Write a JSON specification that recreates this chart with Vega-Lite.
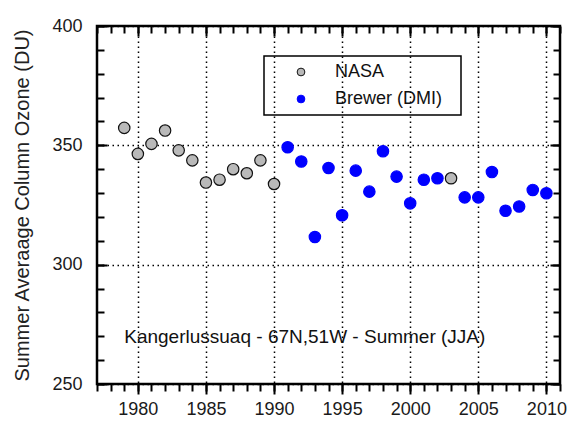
{
  "$schema": "https://vega.github.io/schema/vega-lite/v6.json",
  "autosize": "none",
  "padding": {"left": 97, "top": 26, "right": 7, "bottom": 39},
  "width": 463,
  "height": 358,
  "background": "white",
  "config": {
    "view": {"stroke": "black", "strokeWidth": 2.5},
    "font": "Liberation Sans",
    "axis": {"domain": false, "labelFont": "Liberation Sans", "titleFont": "Liberation Sans", "labelColor": "#1a1a1a", "titleColor": "#222", "tickColor": "black", "tickWidth": 2, "grid": false, "title": null},
    "legend": {"strokeWidth": 1.5}
  },
  "datasets": {
    "ozone": [
      {"year": 1979, "ozone": 357.3, "source": "NASA"},
      {"year": 1980, "ozone": 346.4, "source": "NASA"},
      {"year": 1981, "ozone": 350.6, "source": "NASA"},
      {"year": 1982, "ozone": 356.2, "source": "NASA"},
      {"year": 1983, "ozone": 347.9, "source": "NASA"},
      {"year": 1984, "ozone": 343.7, "source": "NASA"},
      {"year": 1985, "ozone": 334.4, "source": "NASA"},
      {"year": 1986, "ozone": 335.6, "source": "NASA"},
      {"year": 1987, "ozone": 340.0, "source": "NASA"},
      {"year": 1988, "ozone": 338.3, "source": "NASA"},
      {"year": 1989, "ozone": 343.7, "source": "NASA"},
      {"year": 1990, "ozone": 333.8, "source": "NASA"},
      {"year": 2003, "ozone": 336.2, "source": "NASA"},
      {"year": 1991, "ozone": 349.2, "source": "Brewer (DMI)"},
      {"year": 1992, "ozone": 343.2, "source": "Brewer (DMI)"},
      {"year": 1993, "ozone": 311.6, "source": "Brewer (DMI)"},
      {"year": 1994, "ozone": 340.5, "source": "Brewer (DMI)"},
      {"year": 1995, "ozone": 320.7, "source": "Brewer (DMI)"},
      {"year": 1996, "ozone": 339.4, "source": "Brewer (DMI)"},
      {"year": 1997, "ozone": 330.6, "source": "Brewer (DMI)"},
      {"year": 1998, "ozone": 347.5, "source": "Brewer (DMI)"},
      {"year": 1999, "ozone": 336.9, "source": "Brewer (DMI)"},
      {"year": 2000, "ozone": 325.7, "source": "Brewer (DMI)"},
      {"year": 2001, "ozone": 335.6, "source": "Brewer (DMI)"},
      {"year": 2002, "ozone": 336.2, "source": "Brewer (DMI)"},
      {"year": 2004, "ozone": 328.2, "source": "Brewer (DMI)"},
      {"year": 2005, "ozone": 328.2, "source": "Brewer (DMI)"},
      {"year": 2006, "ozone": 338.8, "source": "Brewer (DMI)"},
      {"year": 2007, "ozone": 322.6, "source": "Brewer (DMI)"},
      {"year": 2008, "ozone": 324.4, "source": "Brewer (DMI)"},
      {"year": 2009, "ozone": 331.3, "source": "Brewer (DMI)"},
      {"year": 2010, "ozone": 329.9, "source": "Brewer (DMI)"}
    ],
    "note": [
      {"year": 1979.0, "ozone": 269.5, "label": "Kangerlussuaq - 67N,51W - Summer (JJA)"}
    ]
  },
  "layer": [
    {
      "data": {"name": "note"},
      "mark": {"type": "point", "opacity": 0},
      "encoding": {
        "x": {
          "field": "year", "type": "quantitative",
          "scale": {"domain": [1977, 2011], "nice": false, "zero": false},
          "axis": {
            "orient": "bottom", "labels": false, "ticks": false, "domain": false,
            "values": [1980, 1985, 1990, 1995, 2000, 2005, 2010],
            "grid": true, "gridColor": "black", "gridDash": [1.5, 3.5], "gridWidth": 1.5
          }
        },
        "y": {
          "field": "ozone", "type": "quantitative",
          "scale": {"domain": [250, 400], "nice": false, "zero": false},
          "axis": {
            "orient": "left", "labels": false, "ticks": false, "domain": false,
            "values": [250, 300, 350, 400],
            "grid": true, "gridColor": "black", "gridDash": [1.5, 3.5], "gridWidth": 1.5
          }
        }
      }
    },
    {
      "data": {"name": "note"},
      "mark": {"type": "point", "opacity": 0},
      "encoding": {
        "x": {
          "field": "year", "type": "quantitative",
          "scale": {"domain": [1977, 2011], "nice": false, "zero": false},
          "axis": {
            "orient": "top", "labels": false, "grid": false,
            "values": [1980, 1985, 1990, 1995, 2000, 2005, 2010],
            "tickSize": -10
          }
        },
        "y": {
          "field": "ozone", "type": "quantitative",
          "scale": {"domain": [250, 400], "nice": false, "zero": false},
          "axis": {
            "orient": "right", "labels": false, "grid": false,
            "values": [250, 300, 350, 400],
            "tickSize": -10
          }
        }
      }
    },
    {
      "data": {"name": "note"},
      "mark": {"type": "point", "opacity": 0},
      "encoding": {
        "x": {
          "field": "year", "type": "quantitative",
          "scale": {"domain": [1977, 2011], "nice": false, "zero": false},
          "axis": {
            "orient": "top", "labels": false, "grid": false,
            "values": [1977,1978,1979,1980,1981,1982,1983,1984,1985,1986,1987,1988,1989,1990,1991,1992,1993,1994,1995,1996,1997,1998,1999,2000,2001,2002,2003,2004,2005,2006,2007,2008,2009,2010,2011],
            "tickSize": -7
          }
        },
        "y": {
          "field": "ozone", "type": "quantitative",
          "scale": {"domain": [250, 400], "nice": false, "zero": false},
          "axis": {
            "orient": "right", "labels": false, "grid": false,
            "values": [250,260,270,280,290,300,310,320,330,340,350,360,370,380,390,400],
            "tickSize": -7
          }
        }
      }
    },
    {
      "data": {"name": "note"},
      "mark": {"type": "text", "align": "left", "baseline": "middle", "fontSize": 19, "font": "Liberation Sans", "color": "#111"},
      "encoding": {
        "x": {
          "field": "year", "type": "quantitative",
          "scale": {"domain": [1977, 2011], "nice": false, "zero": false},
          "axis": {
            "orient": "bottom", "labels": false, "grid": false,
            "values": [1977,1978,1979,1980,1981,1982,1983,1984,1985,1986,1987,1988,1989,1990,1991,1992,1993,1994,1995,1996,1997,1998,1999,2000,2001,2002,2003,2004,2005,2006,2007,2008,2009,2010,2011],
            "tickSize": 7
          }
        },
        "y": {
          "field": "ozone", "type": "quantitative",
          "scale": {"domain": [250, 400], "nice": false, "zero": false},
          "axis": {
            "orient": "left", "labels": false, "grid": false,
            "values": [250,260,270,280,290,300,310,320,330,340,350,360,370,380,390,400],
            "tickSize": -7
          }
        },
        "text": {"field": "label", "type": "nominal"}
      }
    },
    {
      "data": {"name": "ozone"},
      "mark": {"type": "point", "shape": "circle", "filled": true, "size": 130, "strokeWidth": 1.2, "opacity": 1},
      "encoding": {
        "x": {
          "field": "year", "type": "quantitative",
          "scale": {"domain": [1977, 2011], "nice": false, "zero": false},
          "axis": {
            "orient": "bottom", "title": null,
            "values": [1980, 1985, 1990, 1995, 2000, 2005, 2010],
            "format": "d",
            "labelFontSize": 18, "labelPadding": 6, "labelFlush": false, "labelOverlap": false,
            "tickSize": 10, "grid": false
          }
        },
        "y": {
          "field": "ozone", "type": "quantitative",
          "scale": {"domain": [250, 400], "nice": false, "zero": false},
          "axis": {
            "orient": "left", "title": "Summer Averaage Column Ozone (DU)",
            "titleFontSize": 20, "titleFontWeight": "normal", "titlePadding": 19,
            "values": [250, 300, 350, 400],
            "labelFontSize": 18, "labelPadding": 25, "labelFlush": false, "labelOverlap": false,
            "tickSize": -10, "grid": false
          }
        },
        "fill": {
          "field": "source", "type": "nominal",
          "scale": {"domain": ["NASA", "Brewer (DMI)"], "range": ["#b9b9b9", "#0000ff"]},
          "legend": {
            "title": "\u00a0", "titleOrient": "right", "titlePadding": 12, "titleFontSize": 12,
            "orient": "none", "legendX": 167, "legendY": 30,
            "strokeColor": "black", "padding": 7, "rowPadding": 9,
            "labelFontSize": 18, "labelFont": "Liberation Sans", "labelColor": "#111",
            "symbolSize": 60, "symbolStrokeWidth": 1, "symbolOffset": 21, "labelOffset": 25
          }
        },
        "stroke": {
          "field": "source", "type": "nominal",
          "scale": {"domain": ["NASA", "Brewer (DMI)"], "range": ["#111111", "#0000ff"]},
          "legend": {
            "title": "\u00a0", "titleOrient": "right", "titlePadding": 12, "titleFontSize": 12,
            "orient": "none", "legendX": 167, "legendY": 30,
            "strokeColor": "black", "padding": 7, "rowPadding": 9,
            "labelFontSize": 18, "labelFont": "Liberation Sans", "labelColor": "#111",
            "symbolSize": 60, "symbolStrokeWidth": 1, "symbolOffset": 21, "labelOffset": 25
          }
        }
      }
    }
  ],
  "resolve": {"axis": {"x": "independent", "y": "independent"}}
}
